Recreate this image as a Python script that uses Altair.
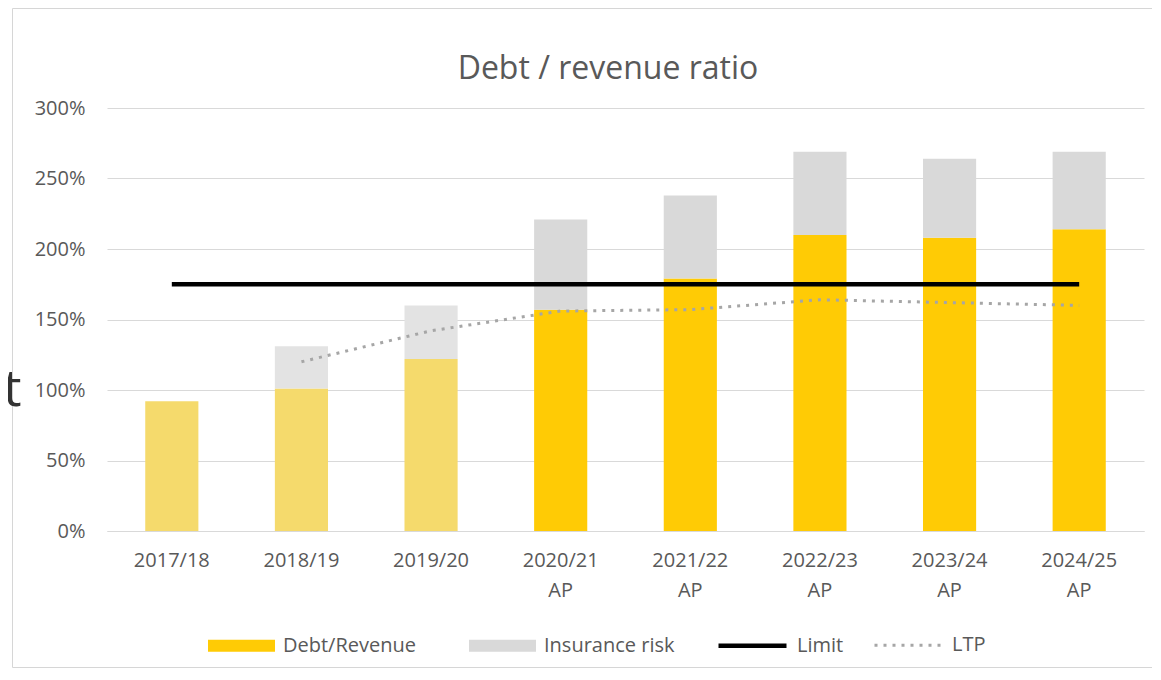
import altair as alt
import pandas as pd

# ---- data ----
years = ["2017/18", "2018/19", "2019/20", "2020/21 AP", "2021/22 AP",
         "2022/23 AP", "2023/24 AP", "2024/25 AP"]
debt_revenue = [0.92, 1.01, 1.22, 1.57, 1.79, 2.10, 2.08, 2.14]
debt_plus_risk = [0.92, 1.31, 1.60, 2.21, 2.38, 2.69, 2.64, 2.69]
is_actual = [True, True, True, False, False, False, False, False]
limit_values = [1.75, 1.75, 1.75, 1.75, 1.75, 1.75, 1.75, 1.75]
ltp_values = [None, 1.20, 1.42, 1.56, 1.57, 1.64, 1.62, 1.60]
y_ticks = [0, 0.5, 1.0, 1.5, 2.0, 2.5, 3.0]
title_text = "Debt / revenue ratio"

# ---- tables ----
bar_rows = []
for yr, d, t, act in zip(years, debt_revenue, debt_plus_risk, is_actual):
    sfx = " (actual)" if act else ""
    bar_rows.append({"year": yr, "start": 0.0, "end": d, "shade": "Debt/Revenue" + sfx})
    if t > d:
        bar_rows.append({"year": yr, "start": d, "end": t, "shade": "Insurance risk" + sfx})
bars_df = pd.DataFrame(bar_rows)

line_rows = []
for yr, v in zip(years, limit_values):
    line_rows.append({"year": yr, "value": v, "series": "Limit"})
for yr, v in zip(years, ltp_values):
    if v is not None:
        line_rows.append({"year": yr, "value": v, "series": "LTP"})
lines_df = pd.DataFrame(line_rows)

TXT = "#595959"
FONT = "Open Sans"

x_enc = alt.X("year:N", sort=years,
              scale=alt.Scale(paddingInner=0.59, paddingOuter=0.295),
              axis=alt.Axis(title=None, labelAngle=0, labelExpr="split(datum.value, ' ')",
                            labelFontSize=20, labelColor=TXT, labelFont=FONT,
                            ticks=False, domainColor="#D9D9D9", domainWidth=1,
                            labelPadding=19, labelLineHeight=30, labelBaseline="top"))
y_scale = alt.Scale(domain=[0, 3], nice=False)
y_axis = alt.Axis(title=None, values=y_ticks, format=".0%", labelFontSize=20,
                  labelColor=TXT, labelFont=FONT, domain=False, ticks=False,
                  labelPadding=22, gridColor="#D9D9D9", gridWidth=1)

color_domain = ["Debt/Revenue", "Insurance risk", "Debt/Revenue (actual)", "Insurance risk (actual)"]
color_range = ["#FFCB05", "#D9D9D9", "#F5DA6C", "#E3E3E3"]

bars = alt.Chart(bars_df).mark_bar(strokeWidth=0).encode(
    x=x_enc,
    y=alt.Y("start:Q", scale=y_scale, axis=y_axis),
    y2="end:Q",
    color=alt.Color("shade:N", scale=alt.Scale(domain=color_domain, range=color_range),
                    legend=alt.Legend(title=None, orient="none", legendX=101, legendY=504,
                                      direction="horizontal",
                                      values=["Debt/Revenue", "Insurance risk"],
                                      symbolType="M-1,-0.18H1V0.18H-1Z", symbolSize=4489,
                                      symbolStrokeWidth=0, labelFontSize=20, labelColor=TXT,
                                      labelFont=FONT, labelOffset=8, columnPadding=53,
                                      padding=0)),
)

line_legend = alt.Legend(title=None, orient="none", legendX=609, legendY=501,
                         direction="horizontal", symbolType="stroke", symbolSize=4624,
                         labelFontSize=20, labelColor=TXT, labelFont=FONT, labelOffset=8,
                         columnPadding=24, padding=0)

lines = alt.Chart(lines_df).mark_line(strokeCap="butt").encode(
    x=alt.X("year:N", sort=years),
    y=alt.Y("value:Q", scale=y_scale),
    stroke=alt.Stroke("series:N", scale=alt.Scale(domain=["Limit", "LTP"], range=["#000000", "#A6A6A6"]),
                      legend=line_legend),
    strokeDash=alt.StrokeDash("series:N", scale=alt.Scale(domain=["Limit", "LTP"], range=[[1, 0], [3, 6]]),
                              legend=line_legend),
    strokeWidth=alt.StrokeWidth("series:N", scale=alt.Scale(domain=["Limit", "LTP"], range=[4.5, 3]),
                                legend=line_legend),
)

frame = alt.Chart(pd.DataFrame({"k": [0]})).mark_rect(fillOpacity=0, stroke="#D6D6D6", strokeWidth=1).encode(
    x=alt.value(-94.5), x2=alt.value(1080), y=alt.value(-99.5), y2=alt.value(559.5)
)

title = alt.Chart(pd.DataFrame({"k": [0]})).mark_text(
    text=title_text, align="center", baseline="middle", fontSize=32, font=FONT, color=TXT
).encode(x=alt.value(501), y=alt.value(-39))

stray = alt.Chart(pd.DataFrame({"k": [0]})).mark_text(
    text="t", align="left", baseline="middle", fontSize=52, font=FONT, color="#333333"
).encode(x=alt.value(-104), y=alt.value(282))

chart = alt.layer(frame, bars, lines, title, stray).resolve_legend(
    color="independent"
).properties(
    width=1037, height=423,
    padding={"left": 99, "top": 100, "right": 8, "bottom": 137},
    autosize=alt.AutoSizeParams(type="none"),
).configure(font=FONT, background="white").configure_view(stroke=None)

chart.save("out.html", embed_options={"renderer": "svg", "actions": False})
